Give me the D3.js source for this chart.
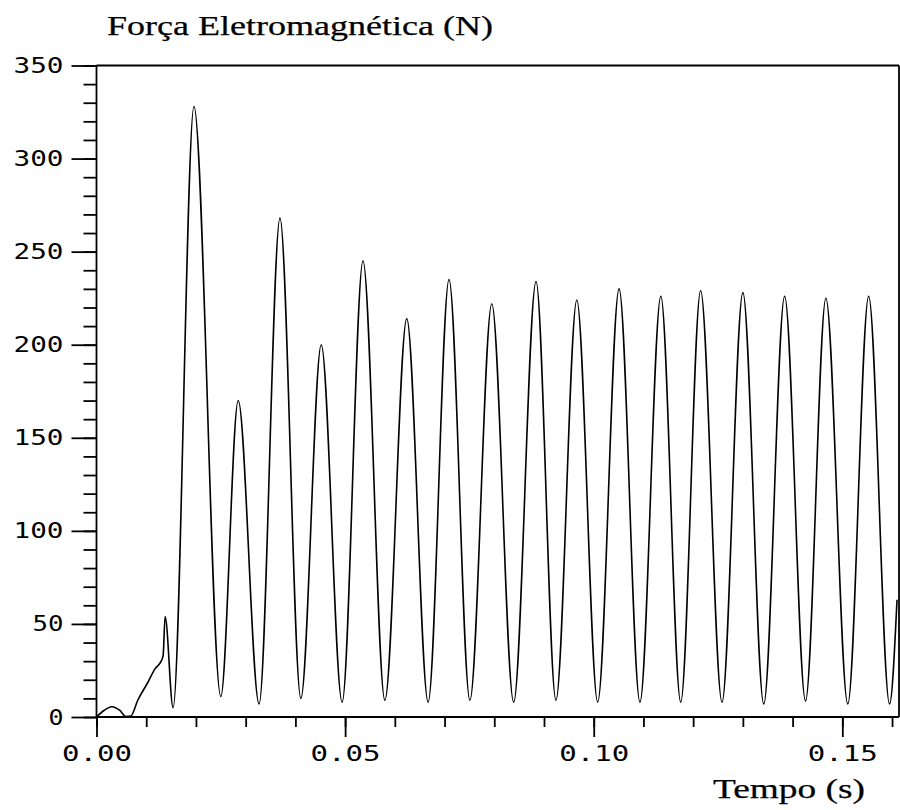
<!DOCTYPE html>
<html>
<head>
<meta charset="utf-8">
<script src="https://cdn.jsdelivr.net/npm/d3@7"></script>
<style>
  html, body { margin: 0; padding: 0; background: #fff; }
  svg { display: block; }
</style>
</head>
<body>
<svg id="chart" width="900" height="810"></svg>
<script>
// Electromagnetic force on the plunger during energisation (time in seconds, force in newtons)
const timeS = [
  0.0000, 0.0015, 0.0031, 0.0047, 0.0059, 0.0069, 0.0083, 0.0102, 0.0118, 0.0130, 0.0134,
  0.0138, 0.0154, 0.0196, 0.0250, 0.0285, 0.0327, 0.0369, 0.0411, 0.0452, 0.0494,
  0.0536, 0.0580, 0.0624, 0.0667, 0.0709, 0.0751, 0.0795, 0.0839, 0.0884, 0.0924,
  0.0966, 0.1008, 0.1051, 0.1093, 0.1135, 0.1175, 0.1215, 0.1258, 0.1300, 0.1342,
  0.1384, 0.1426, 0.1467, 0.1511, 0.1553, 0.1595, 0.1610
];
const forceN = [
  0, 3.5, 5.5, 3.5, 0.3, 0.5, 9, 18, 26, 30, 33,
  54, 5, 328, 11, 170, 7, 268, 10, 200, 8,
  245, 9, 214, 8, 235, 9, 222, 8, 234, 9,
  224, 8, 230, 8, 226, 8, 229, 8, 228, 7,
  226, 8.6, 225, 7, 226, 7, 63
];
const yMajorTicks = [0, 50, 100, 150, 200, 250, 300, 350];
const yMinorTicks = d3.range(0, 351, 10);
const xMajorTicks = [0, 0.05, 0.10, 0.15];
const xTickLabels = ["0.00", "0.05", "0.10", "0.15"];
const xMinorTicks = d3.range(0, 0.161, 0.01);

const yTitle = "Força Eletromagnética (N)";
const xTitle = "Tempo (s)";

const svg = d3.select("#chart");
svg.append("rect").attr("width", 900).attr("height", 810).attr("fill", "#fff");

const x = d3.scaleLinear().domain([0, 0.1614]).range([96.5, 899]);
const y = d3.scaleLinear().domain([0, 350]).range([717, 65.5]);

const tickFont = "'DejaVu Sans Mono', 'Liberation Mono', monospace";
const axisW = 1.8;

// y axis: minor ticks every 10 N, major every 50 N
const gyMinor = svg.append("g").attr("transform", `translate(${x(0)},0)`)
  .call(d3.axisLeft(y).tickValues(yMinorTicks).tickSize(13).tickFormat(""));
const gyMajor = svg.append("g").attr("transform", `translate(${x(0)},0)`)
  .call(d3.axisLeft(y).tickValues(yMajorTicks).tickSize(25).tickPadding(8).tickFormat(d3.format("d")));

// x axis: minor ticks every 10 ms, major every 50 ms
const gxMinor = svg.append("g").attr("transform", `translate(0,${y(0)})`)
  .call(d3.axisBottom(x).tickValues(xMinorTicks).tickSize(10).tickFormat(""));
const gxMajor = svg.append("g").attr("transform", `translate(0,${y(0)})`)
  .call(d3.axisBottom(x).tickValues(xMajorTicks).tickSize(20).tickPadding(8)
    .tickFormat((d, i) => xTickLabels[i]));

[gyMinor, gyMajor, gxMinor, gxMajor].forEach(g => {
  g.select(".domain").remove();
  g.selectAll("line").attr("stroke", "#000").attr("stroke-width", axisW);
  g.selectAll("text")
    .attr("fill", "#000")
    .attr("font-family", tickFont)
    .attr("font-size", 22);
});

// wide plotter-style digits: stretch glyphs to the label widths
gyMajor.selectAll("text").each(function () {
  const s = d3.select(this);
  const n = s.text().length;
  const w = n === 3 ? 50 : n === 2 ? 31 : 15;
  s.attr("textLength", w).attr("lengthAdjust", "spacingAndGlyphs");
});
gxMajor.selectAll("text").attr("textLength", 70).attr("lengthAdjust", "spacingAndGlyphs");

// frame: left axis, bottom axis, top and right borders
const frame = svg.append("g").attr("stroke", "#000").attr("stroke-width", axisW).attr("fill", "none");
frame.append("line").attr("x1", x(0)).attr("x2", x(0)).attr("y1", y(350)).attr("y2", y(0));
frame.append("line").attr("x1", x(0)).attr("x2", x.range()[1]).attr("y1", y(0)).attr("y2", y(0));
frame.append("line").attr("x1", x(0)).attr("x2", x.range()[1]).attr("y1", y(350)).attr("y2", y(350));
frame.append("line").attr("x1", x.range()[1]).attr("x2", x.range()[1]).attr("y1", y(350)).attr("y2", y(0));

// force curve
const series = timeS.map((t, i) => [t, forceN[i]]);
const line = d3.line()
  .x(d => x(d[0]))
  .y(d => y(d[1]))
  .curve(d3.curveMonotoneX);

svg.append("path")
  .datum(series)
  .attr("d", line)
  .attr("fill", "none")
  .attr("stroke", "#000")
  .attr("stroke-width", 1.6)
  .attr("stroke-linejoin", "round");

// axis titles
const titleFont = "'Liberation Serif', 'DejaVu Serif', serif";
svg.append("text")
  .attr("x", 107).attr("y", 35)
  .attr("font-family", titleFont).attr("font-size", 28)
  .attr("fill", "#000").attr("stroke", "#000").attr("stroke-width", 0.25)
  .attr("textLength", 386).attr("lengthAdjust", "spacingAndGlyphs")
  .text(yTitle);

svg.append("text")
  .attr("x", 713).attr("y", 798)
  .attr("font-family", titleFont).attr("font-size", 28)
  .attr("fill", "#000").attr("stroke", "#000").attr("stroke-width", 0.25)
  .attr("textLength", 152).attr("lengthAdjust", "spacingAndGlyphs")
  .text(xTitle);
</script>
</body>
</html>
